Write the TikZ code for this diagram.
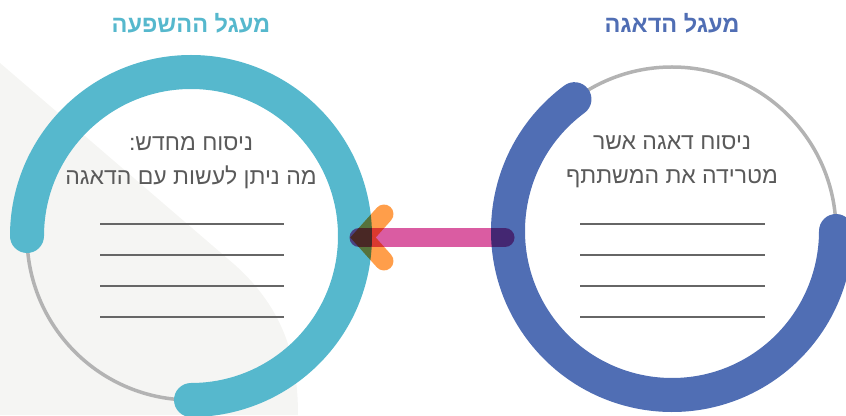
\documentclass[tikz,border=0pt]{standalone}
\usepackage{fontspec}
\usetikzlibrary{calc}
\newfontfamily\hebfont[Script=Hebrew]{Liberation Sans}
\TeXXeTstate=1
\definecolor{influence}{HTML}{56B8CD}
\definecolor{worry}{HTML}{506EB4}
\definecolor{ringgray}{HTML}{B3B3B3}
\definecolor{rulegray}{HTML}{666666}
\definecolor{textgray}{HTML}{5A5A5A}
\definecolor{backdrop}{HTML}{F5F5F3}
\definecolor{shaft}{HTML}{DA5CA2}
\definecolor{chevron}{HTML}{FF9E4A}
\begin{document}
\begin{tikzpicture}[x=1pt,y=1pt,
  thinring/.style={draw=ringgray,line width=3.5pt},
  band/.style={line width=34pt,line cap=round},
  writeline/.style={draw=rulegray,line width=1.3pt},
  bodytext/.style={anchor=base,text=textgray,inner sep=0pt,
    font=\hebfont\fontsize{23}{27}\selectfont},
  titletext/.style={anchor=base,inner sep=0pt,
    font=\hebfont\bfseries\fontsize{23.5}{28}\selectfont}]
\useasboundingbox (0,0) rectangle (846,415);
% soft backdrop on the left
\fill[backdrop] (0,352) -- (235,150) .. controls (285,105) and (298,55) .. (298,0) -- (0,0) -- cycle;

% circle centres
\coordinate (lc) at (191,179);
\coordinate (rc) at (672,184);

% thin grey rings
\draw[thinring] (lc) circle[radius=164];
\draw[thinring] (rc) circle[radius=164];

% coloured bands
\draw[band,influence] ($(lc)+(180:164)$) arc[start angle=180,end angle=-90,radius=164];
\draw[band,worry] ($(rc)+(126.5:164)$) arc[start angle=126.5,end angle=360,radius=164];

% titles
\node[titletext,text=influence] (lt) at (191,382) {\beginR מעגל ההשפעה\endR};
\node[titletext,text=worry] (rt) at (672,382) {\beginR מעגל הדאגה\endR};

% texts inside the rings
\node[bodytext] (l1) at (191,264) {\beginR ניסוח מחדש:\endR};
\node[bodytext] (l2) at (191,230) {\beginR מה ניתן לעשות עם הדאגה\endR};
\node[bodytext] (r1) at (672,265) {\beginR ניסוח דאגה אשר\endR};
\node[bodytext] (r2) at (672,231) {\beginR מטרידה את המשתתף\endR};

% writing lines
\foreach \yy in {191,160,129,98}{
  \draw[writeline] (100,\yy) -- (284,\yy);
  \draw[writeline] (580,\yy) -- (765,\yy);
}

% arrow from the worry ring to the influence ring
\coordinate (tail) at (505,177.5);
\coordinate (head) at (359,177.5);
\coordinate (tip) at (363,177.5);
\coordinate (armA) at (384,201);
\coordinate (armB) at (384,154);
\begin{scope}[blend mode=multiply]
  \draw[shaft,line width=19pt,line cap=round] (tail) -- (head);
  \draw[chevron,line width=19pt,line cap=round,line join=miter] (armA) -- (tip) -- (armB);
\end{scope}
\end{tikzpicture}
\end{document}
